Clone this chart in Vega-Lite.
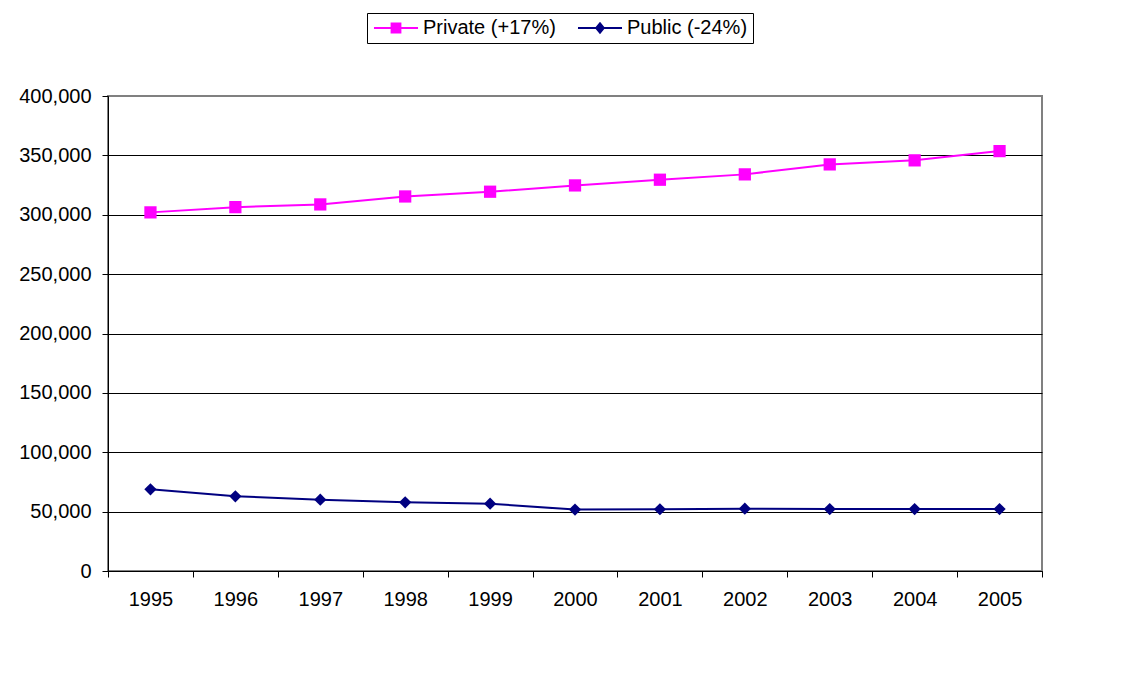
{
  "$schema": "https://vega.github.io/schema/vega-lite/v6.json",
  "width": 934,
  "height": 475,
  "autosize": {"type": "none"},
  "padding": {"left": 108, "top": 96, "right": 88, "bottom": 124},
  "background": "white",
  "config": {
    "font": "Liberation Sans",
    "view": {"stroke": "#808080", "strokeWidth": 2}
  },
  "data": {
    "values": [
      {"year": "1995", "series": "Private (+17%)", "value": 302000},
      {"year": "1996", "series": "Private (+17%)", "value": 306400},
      {"year": "1997", "series": "Private (+17%)", "value": 308700},
      {"year": "1998", "series": "Private (+17%)", "value": 315400},
      {"year": "1999", "series": "Private (+17%)", "value": 319400},
      {"year": "2000", "series": "Private (+17%)", "value": 324700},
      {"year": "2001", "series": "Private (+17%)", "value": 329500},
      {"year": "2002", "series": "Private (+17%)", "value": 334000},
      {"year": "2003", "series": "Private (+17%)", "value": 342400},
      {"year": "2004", "series": "Private (+17%)", "value": 345800},
      {"year": "2005", "series": "Private (+17%)", "value": 353600},
      {"year": "1995", "series": "Public (-24%)", "value": 68800},
      {"year": "1996", "series": "Public (-24%)", "value": 62900},
      {"year": "1997", "series": "Public (-24%)", "value": 60100},
      {"year": "1998", "series": "Public (-24%)", "value": 57800},
      {"year": "1999", "series": "Public (-24%)", "value": 56700},
      {"year": "2000", "series": "Public (-24%)", "value": 51700},
      {"year": "2001", "series": "Public (-24%)", "value": 52000},
      {"year": "2002", "series": "Public (-24%)", "value": 52500},
      {"year": "2003", "series": "Public (-24%)", "value": 52200},
      {"year": "2004", "series": "Public (-24%)", "value": 52200},
      {"year": "2005", "series": "Public (-24%)", "value": 52200}
    ]
  },
  "encoding": {
    "x": {
      "field": "year",
      "type": "ordinal",
      "scale": {"type": "band", "paddingInner": 0, "paddingOuter": 0},
      "axis": {
        "title": null,
        "labelAngle": 0,
        "labelFontSize": 20,
        "labelColor": "black",
        "labelPadding": 12,
        "tickBand": "extent",
        "tickSize": 6,
        "tickColor": "black",
        "domainColor": "black",
        "domainWidth": 1,
        "grid": false
      }
    },
    "y": {
      "field": "value",
      "type": "quantitative",
      "scale": {"domain": [0, 400000], "nice": false},
      "axis": {
        "title": null,
        "values": [0, 50000, 100000, 150000, 200000, 250000, 300000, 350000, 400000],
        "format": ",.0f",
        "labelFontSize": 20,
        "labelColor": "black",
        "labelPadding": 11,
        "tickSize": 6,
        "tickColor": "black",
        "domainColor": "black",
        "grid": true,
        "gridColor": "black",
        "gridWidth": 1,
        "gridOpacity": {"condition": {"test": "datum.value === 400000", "value": 0}, "value": 1}
      }
    }
  },
  "layer": [
    {
      "mark": {"type": "line", "strokeWidth": 2},
      "encoding": {
        "color": {
          "field": "series",
          "type": "nominal",
          "scale": {"domain": ["Private (+17%)", "Public (-24%)"], "range": ["#FF00FF", "#000080"]},
          "legend": null
        }
      }
    },
    {
      "mark": {"type": "point", "filled": true, "opacity": 1, "size": 150},
      "encoding": {
        "color": {
          "field": "series",
          "type": "nominal",
          "scale": {"domain": ["Private (+17%)", "Public (-24%)"], "range": ["#FF00FF", "#000080"]},
          "legend": null
        },
        "shape": {
          "field": "series",
          "type": "nominal",
          "scale": {"domain": ["Private (+17%)", "Public (-24%)"], "range": ["square", "diamond"]},
          "legend": null
        }
      }
    },
    {
      "transform": [{"filter": "false"}],
      "mark": {"type": "point", "filled": true, "opacity": 1, "size": 144},
      "encoding": {
        "color": {
          "field": "series",
          "type": "nominal",
          "scale": {"domain": ["Private (+17%)", "Public (-24%)"], "range": ["#FF00FF", "#000080"]},
          "legend": {
            "orient": "none",
            "legendX": 259,
            "legendY": -83,
            "direction": "horizontal",
            "columns": 2,
            "title": null,
            "padding": 5,
            "strokeColor": "black",
            "fillColor": "white",
            "labelFontSize": 20,
            "labelColor": "black",
            "symbolSize": 144,
            "symbolOffset": 14,
            "labelOffset": 17,
            "columnPadding": 18,
            "symbolOpacity": 1
          }
        },
        "shape": {
          "field": "series",
          "type": "nominal",
          "scale": {
            "domain": ["Private (+17%)", "Public (-24%)"],
            "range": [
              "M-3.67,-0.17H3.67V0.17H-3.67Z M-0.9,-0.9H0.9V0.9H-0.9Z",
              "M-3.67,-0.17H3.67V0.17H-3.67Z M0,-1.05L0.85,0L0,1.05L-0.85,0Z"
            ]
          },
          "legend": {
            "orient": "none",
            "legendX": 259,
            "legendY": -83,
            "direction": "horizontal",
            "columns": 2,
            "title": null,
            "padding": 5,
            "strokeColor": "black",
            "fillColor": "white",
            "labelFontSize": 20,
            "labelColor": "black",
            "symbolSize": 144,
            "symbolOffset": 14,
            "labelOffset": 17,
            "columnPadding": 18,
            "symbolOpacity": 1
          }
        }
      }
    }
  ],
  "resolve": {"scale": {"shape": "independent", "color": "independent"}}
}
